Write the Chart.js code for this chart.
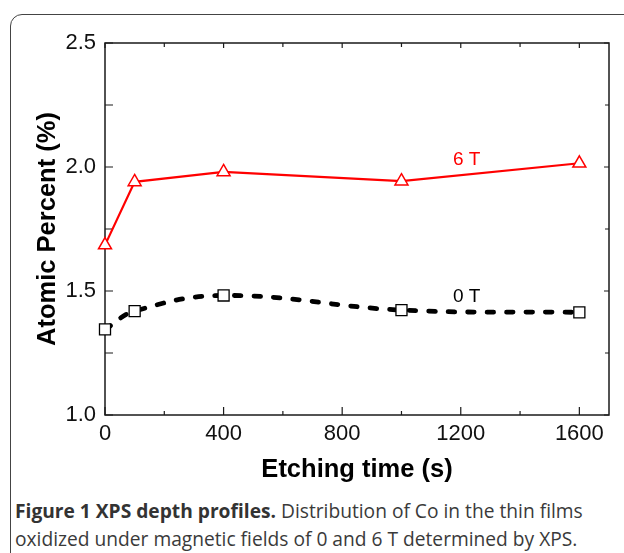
<!DOCTYPE html>
<html>
<head>
<meta charset="utf-8">
<script src="https://cdn.jsdelivr.net/npm/chart.js@4.4.0/dist/chart.umd.min.js"></script>
<style>
  body { margin: 0; background: #fff; }
  #wrap { position: relative; width: 624px; height: 553px; overflow: hidden; }
  #box {
    position: absolute; left: 10px; top: 14px; width: 700px; height: 600px;
    border: 1.5px solid #444; border-radius: 12px; box-sizing: border-box;
  }
  #chartHolder { position: absolute; left: 0; top: 0; width: 624px; height: 490px; }
  #caption {
    position: absolute; left: 15px; top: 497px; width: 610px;
    font-family: "Open Sans", sans-serif; font-size: 19.2px; line-height: 27.5px;
    color: #3a3a3a; white-space: nowrap;
  }
  #caption b { color: #333; }
</style>
</head>
<body>
<div id="wrap">
  <div id="box"></div>
  <div id="chartHolder"><canvas id="xpsChart"></canvas></div>
  <div id="caption">
    <b>Figure 1 XPS depth profiles.</b> Distribution of Co in the thin films<br>
    oxidized under magnetic fields of 0 and 6 T determined by XPS.
  </div>
</div>
<script>
// etching times (s)
const etchTimes = [0, 100, 400, 1000, 1600];
// Co atomic percent
const co6T = [1.685, 1.94, 1.98, 1.943, 2.015];
const co0T = [1.345, 1.419, 1.482, 1.423, 1.414];

const xTickValues = [0, 400, 800, 1200, 1600];
const xMinorValues = [200, 600, 1000, 1400];
const yTickValues = [1.0, 1.5, 2.0, 2.5];
const yMinorValues = [1.25, 1.75, 2.25];

// in-plot series labels (data units)
const seriesLabels = ['6 T', '0 T'];
const seriesLabelX = [1220, 1220];
const seriesLabelY = [2.03, 1.476];
const seriesLabelColors = ['#ff0000', '#000000'];

const toPoints = (xs, ys) => xs.map((x, i) => ({ x: x, y: ys[i] }));

// box frame with inward ticks on all four sides
const frameTicks = {
  id: 'frameTicks',
  beforeDatasetsDraw(chart) {
    const { ctx, chartArea: a, scales: { x, y } } = chart;
    ctx.save();
    ctx.strokeStyle = '#1a1a1a';
    ctx.lineWidth = 1.5;
    ctx.strokeRect(a.left, a.top, a.right - a.left, a.bottom - a.top);
    ctx.lineWidth = 1.2;
    ctx.beginPath();
    const xTick = (v, lenB, lenT) => {
      const px = x.getPixelForValue(v);
      ctx.moveTo(px, a.bottom); ctx.lineTo(px, a.bottom - lenB);
      ctx.moveTo(px, a.top); ctx.lineTo(px, a.top + lenT);
    };
    const yTick = (v, lenL, lenR) => {
      const py = y.getPixelForValue(v);
      ctx.moveTo(a.left, py); ctx.lineTo(a.left + lenL, py);
      ctx.moveTo(a.right, py); ctx.lineTo(a.right - lenR, py);
    };
    xTickValues.forEach(v => xTick(v, 8, 5));
    xMinorValues.forEach(v => xTick(v, 4, 4));
    yTickValues.forEach(v => yTick(v, 8, 5));
    yMinorValues.forEach(v => yTick(v, 8, 4));
    ctx.stroke();
    ctx.restore();
  },
  afterDatasetsDraw(chart) {
    const { ctx, scales: { x, y } } = chart;
    ctx.save();
    ctx.font = '19px "Liberation Sans", Arial, sans-serif';
    ctx.textAlign = 'center';
    ctx.textBaseline = 'middle';
    seriesLabels.forEach((t, i) => {
      ctx.fillStyle = seriesLabelColors[i];
      ctx.fillText(t, x.getPixelForValue(seriesLabelX[i]), y.getPixelForValue(seriesLabelY[i]));
    });
    ctx.restore();
  }
};

const tickFont = { family: '"Liberation Sans", Arial, sans-serif', size: 22 };
const titleFont = { family: '"Liberation Sans", Arial, sans-serif', size: 25.5, weight: 'bold' };

new Chart(document.getElementById('xpsChart'), {
  type: 'line',
  data: {
    datasets: [
      {
        label: '6 T',
        data: toPoints(etchTimes, co6T),
        borderColor: '#ff0000',
        borderWidth: 2.2,
        tension: 0,
        clip: false,
        pointStyle: 'triangle',
        pointRadius: 7.5,
        pointBorderWidth: 1.5,
        pointBorderColor: '#ff0000',
        pointBackgroundColor: '#ffffff'
      },
      {
        label: '0 T',
        data: toPoints(etchTimes, co0T),
        borderColor: '#000000',
        borderWidth: 4.8,
        borderDash: [6.5, 13],
        borderCapStyle: 'round',
        tension: 0.4,
        clip: false,
        pointStyle: 'rect',
        pointRadius: 7.8,
        pointBorderWidth: 1.3,
        pointBorderColor: '#000000',
        pointBackgroundColor: '#ffffff'
      }
    ]
  },
  options: {
    responsive: true,
    maintainAspectRatio: false,
    animation: false,
    layout: { padding: { top: 43, right: 15, left: 0, bottom: 0 } },
    plugins: { legend: { display: false }, tooltip: { enabled: false } },
    scales: {
      x: {
        type: 'linear',
        min: 0,
        max: 1700,
        grid: { display: false, drawTicks: false },
        border: { display: false },
        afterBuildTicks: s => { s.ticks = xTickValues.map(v => ({ value: v })); },
        afterFit: s => { s.height = 75; },
        ticks: { color: '#111', font: tickFont, padding: 6, maxRotation: 0, autoSkip: false,
                 callback: v => String(v) },
        title: { display: true, text: 'Etching time (s)', color: '#000', font: titleFont,
                 padding: { top: 0, bottom: 5 } }
      },
      y: {
        min: 1.0,
        max: 2.5,
        grid: { display: false, drawTicks: false },
        border: { display: false },
        afterBuildTicks: s => { s.ticks = yTickValues.map(v => ({ value: v })); },
        afterFit: s => { s.width = 105; },
        ticks: { color: '#111', font: tickFont, padding: 9, autoSkip: false,
                 callback: v => Number(v).toFixed(1) },
        title: { display: true, text: 'Atomic Percent (%)', color: '#000', font: titleFont,
                 padding: { top: 33, bottom: 0 } }
      }
    }
  },
  plugins: [frameTicks]
});
</script>
</body>
</html>
